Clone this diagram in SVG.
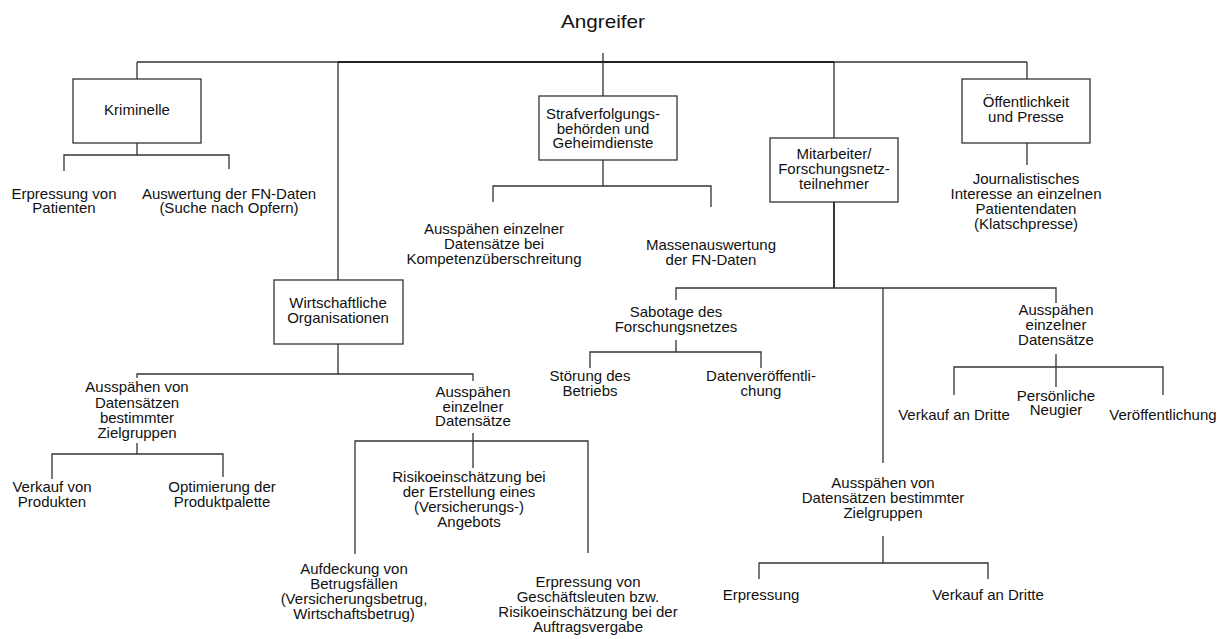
<svg xmlns="http://www.w3.org/2000/svg" width="1230" height="639" viewBox="0 0 1230 639">
  <style>
    text { font-family: "Liberation Sans", Arial, sans-serif; font-size: 15px; fill: #111; text-anchor: middle; }
    .title { font-size: 19px; }
    .box { fill: #fff; stroke: #333; stroke-width: 1.3; }
    .c { fill: none; stroke: #333; stroke-width: 1.3; }
    .t { fill: none; stroke: #222; stroke-width: 1.8; }
  </style>
  <rect width="1230" height="639" fill="#fff"/>

  <!-- connectors -->
  <g id="connectors">
    <!-- root bar -->
    <path class="c" d="M603 53 V62 M137 62 H338 M834 62 H1027 M137 62 V79 M1027 62 V79 M603 62 V96 M834 62 V138 M338 62 V280"/>
    <path class="t" d="M338 62 H834"/>
    <!-- Kriminelle -->
    <path class="c" d="M137 143 V155 M64 171 V155 H229 V169"/>
    <!-- Strafverfolgung -->
    <path class="c" d="M603 160 V186 M493 202 V186 H711 V207"/>
    <!-- Oeffentlichkeit -->
    <path class="c" d="M1027 143 V165"/>
    <!-- Mitarbeiter -->
    <path class="t" d="M834 202 V288"/>
    <path class="c" d="M676 300 V288 H1056 V303 M883 288 V463"/>
    <path class="c" d="M676 340 V352 M590 368 V352 H761 V368"/>
    <path class="c" d="M1056 354 V387 M954 395 V367 H1163 V395"/>
    <path class="c" d="M883 536 V563 M759 579 V563 H988 V579"/>
    <!-- Wirtschaftliche Organisationen -->
    <path class="c" d="M338 344 V374 M137 378 V374 H473 V381"/>
    <path class="c" d="M137 443 V454 M52 479 V454 H223 V477"/>
    <path class="c" d="M473 433 V468 M355 554 V441 H588 V553"/>
  </g>

  <g id="root">
    <text class="title" x="603" y="28" textLength="84" lengthAdjust="spacingAndGlyphs">Angreifer</text>
  </g>

  <g id="kriminelle">
    <rect class="box" x="73" y="79" width="128" height="64"/>
    <text x="137" y="115">Kriminelle</text>
  </g>
  <g id="erpressung-patienten">
    <text x="64" y="198.5">Erpressung von</text>
    <text x="64" y="213">Patienten</text>
  </g>
  <g id="auswertung-fn">
    <text x="229" y="198.5">Auswertung der FN-Daten</text>
    <text x="229" y="213">(Suche nach Opfern)</text>
  </g>

  <g id="strafverfolgung">
    <rect class="box" x="539" y="96" width="138" height="64"/>
    <text x="603" y="119">Strafverfolgungs-</text>
    <text x="603" y="133.5">behörden und</text>
    <text x="603" y="148">Geheimdienste</text>
  </g>
  <g id="kompetenz">
    <text x="494" y="234">Ausspähen einzelner</text>
    <text x="494" y="249">Datensätze bei</text>
    <text x="494" y="264">Kompetenzüberschreitung</text>
  </g>
  <g id="massenauswertung">
    <text x="711" y="250">Massenauswertung</text>
    <text x="711" y="264.5">der FN-Daten</text>
  </g>

  <g id="mitarbeiter">
    <rect class="box" x="770" y="138" width="128" height="64"/>
    <text x="834" y="158.5">Mitarbeiter/</text>
    <text x="834" y="173.5">Forschungsnetz-</text>
    <text x="834" y="188.5">teilnehmer</text>
  </g>
  <g id="sabotage">
    <text x="676" y="317">Sabotage des</text>
    <text x="676" y="332">Forschungsnetzes</text>
  </g>
  <g id="stoerung">
    <text x="590" y="381">Störung des</text>
    <text x="590" y="396">Betriebs</text>
  </g>
  <g id="datenveroeffentlichung">
    <text x="761" y="381">Datenveröffentli-</text>
    <text x="761" y="396">chung</text>
  </g>
  <g id="mit-einzelne">
    <text x="1056" y="315">Ausspähen</text>
    <text x="1056" y="330">einzelner</text>
    <text x="1056" y="345">Datensätze</text>
  </g>
  <g id="mit-verkauf">
    <text x="954" y="420">Verkauf an Dritte</text>
  </g>
  <g id="neugier">
    <text x="1056" y="401">Persönliche</text>
    <text x="1056" y="414.5">Neugier</text>
  </g>
  <g id="veroeffentlichung">
    <text x="1163" y="420">Veröffentlichung</text>
  </g>
  <g id="mit-zielgruppen">
    <text x="883" y="488">Ausspähen von</text>
    <text x="883" y="503">Datensätzen bestimmter</text>
    <text x="883" y="518">Zielgruppen</text>
  </g>
  <g id="mit-erpressung">
    <text x="761" y="600">Erpressung</text>
  </g>
  <g id="mit-verkauf-2">
    <text x="988" y="600">Verkauf an Dritte</text>
  </g>

  <g id="oeffentlichkeit">
    <rect class="box" x="962" y="79" width="128" height="64"/>
    <text x="1026" y="107">Öffentlichkeit</text>
    <text x="1026" y="122">und Presse</text>
  </g>
  <g id="journalismus">
    <text x="1026" y="184">Journalistisches</text>
    <text x="1026" y="199">Interesse an einzelnen</text>
    <text x="1026" y="214">Patientendaten</text>
    <text x="1026" y="228.5">(Klatschpresse)</text>
  </g>

  <g id="wirtschaft">
    <rect class="box" x="274" y="280" width="129" height="64"/>
    <text x="338" y="307.5">Wirtschaftliche</text>
    <text x="338" y="322.5">Organisationen</text>
  </g>
  <g id="wi-zielgruppen">
    <text x="137" y="392">Ausspähen von</text>
    <text x="137" y="407.5">Datensätzen</text>
    <text x="137" y="422.5">bestimmter</text>
    <text x="137" y="437.5">Zielgruppen</text>
  </g>
  <g id="verkauf-produkte">
    <text x="52" y="492">Verkauf von</text>
    <text x="52" y="507">Produkten</text>
  </g>
  <g id="produktpalette">
    <text x="222" y="492">Optimierung der</text>
    <text x="222" y="507">Produktpalette</text>
  </g>
  <g id="wi-einzelne">
    <text x="473" y="397">Ausspähen</text>
    <text x="473" y="411.5">einzelner</text>
    <text x="473" y="426">Datensätze</text>
  </g>
  <g id="risiko-angebot">
    <text x="469" y="482">Risikoeinschätzung bei</text>
    <text x="469" y="497">der Erstellung eines</text>
    <text x="469" y="512">(Versicherungs-)</text>
    <text x="469" y="527">Angebots</text>
  </g>
  <g id="betrug">
    <text x="354" y="574">Aufdeckung von</text>
    <text x="354" y="589">Betrugsfällen</text>
    <text x="354" y="604">(Versicherungsbetrug,</text>
    <text x="354" y="619">Wirtschaftsbetrug)</text>
  </g>
  <g id="geschaeftsleute">
    <text x="588" y="587">Erpressung von</text>
    <text x="588" y="602">Geschäftsleuten bzw.</text>
    <text x="588" y="617">Risikoeinschätzung bei der</text>
    <text x="588" y="631.5">Auftragsvergabe</text>
  </g>
</svg>
